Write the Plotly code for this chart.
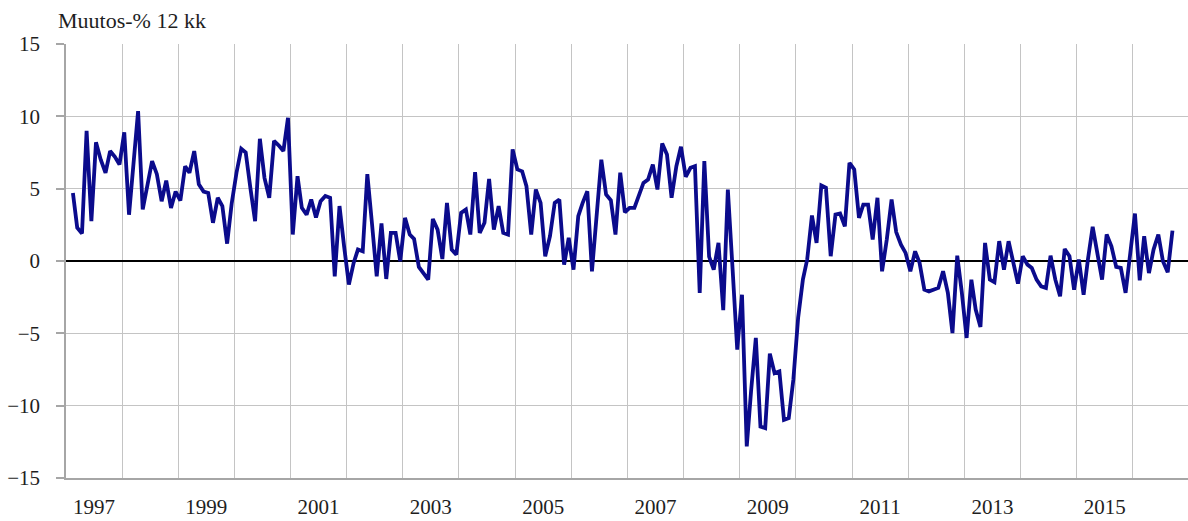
import plotly.graph_objects as go
import pandas as pd

start_month = "1997-01-15"
values = [
    4.7, 2.3, 1.9, 9.0, 2.75, 8.2, 7.0, 6.1, 7.6, 7.2, 6.67, 8.9,
    3.2, 6.8, 10.36, 3.56, 5.2, 6.9, 6.0, 4.13, 5.56, 3.67, 4.8, 4.18,
    6.55, 6.1, 7.6, 5.3, 4.8, 4.7, 2.64, 4.37, 3.8, 1.2, 4.0, 6.1,
    7.76, 7.5, 5.0, 2.75, 8.45, 5.75, 4.37, 8.3, 8.0, 7.6, 9.9, 1.83,
    5.86, 3.67, 3.2, 4.25, 3.0, 4.13, 4.5, 4.37, -1.06, 3.8, 1.0, -1.63,
    -0.13, 0.79, 0.67, 6.0, 2.5, -1.06, 2.59, -1.24, 1.94, 1.94, -0.02, 2.98,
    1.83, 1.53, -0.41, -0.85, -1.29, 2.91, 2.17, 0.14, 4.02, 0.79, 0.44, 3.33,
    3.56, 1.83, 6.14, 1.94, 2.64, 5.68, 2.17, 3.79, 1.94, 1.83, 7.71, 6.33,
    6.2, 5.17, 1.83, 4.94, 4.02, 0.33, 1.71, 4.02, 4.25, -0.25, 1.6, -0.6,
    3.1, 4.0, 4.82, -0.71, 3.1, 7.0, 4.6, 4.2, 1.83, 6.1, 3.37, 3.67,
    3.67, 4.48, 5.4, 5.63, 6.67, 4.94, 8.12, 7.36, 4.37, 6.55, 7.9, 5.82,
    6.44, 6.55, -2.2, 6.9, 0.3, -0.6, 1.25, -3.4, 4.94, -0.6, -6.13, -2.33,
    -12.82, -9.0, -5.32, -11.44, -11.55, -6.41, -7.75, -7.63, -10.98, -10.86, -8.2, -3.94,
    -1.29, 0.1, 3.14, 1.25, 5.22, 5.06, 0.33, 3.21, 3.28, 2.4, 6.79, 6.33,
    2.98, 3.9, 3.9, 1.48, 4.37, -0.71, 1.5, 4.25, 2.0, 1.13, 0.56, -0.71,
    0.67, -0.13, -1.98, -2.1, -2.0, -1.86, -0.71, -2.2, -4.98, 0.37, -2.2, -5.32,
    -1.29, -3.36, -4.56, 1.25, -1.29, -1.47, 1.37, -0.6, 1.37, -0.1, -1.56, 0.33,
    -0.25, -0.48, -1.29, -1.75, -1.86, 0.37, -1.29, -2.44, 0.83, 0.33, -1.98, 0.1,
    -2.33, 0.1, 2.36, 0.56, -1.29, 1.83, 1.02, -0.41, -0.48, -2.2, 0.79, 3.28,
    -1.33, 1.71, -0.83, 0.79, 1.83, -0.02, -0.78, 2.1,
]
year_labels = ["1997", "1999", "2001", "2003", "2005", "2007", "2009", "2011", "2013", "2015"]
y_ticks = [-15, -10, -5, 0, 5, 10, 15]
y_title = "Muutos-% 12 kk"

dates = pd.date_range(start=start_month, periods=len(values), freq="MS") + pd.Timedelta(days=14)
label_pos = [f"{y}-07-02" for y in year_labels]

font_family = "Liberation Serif"
grid_c = "#c4c4c4"
axis_c = "#a6a6a6"

fig = go.Figure()
fig.add_trace(go.Scatter(
    x=dates, y=values, mode="lines",
    line=dict(color="#0b0b8c", width=3.8),
    hoverinfo="skip", showlegend=False,
))

fig.update_layout(
    width=1188, height=521,
    margin=dict(l=66, r=0, t=44, b=43, autoexpand=False),
    paper_bgcolor="white", plot_bgcolor="white",
    font=dict(family=font_family, size=21, color="#1e1e1e"),
    xaxis=dict(
        range=["1997-01-01", "2016-12-25"],
        automargin=False,
        tickmode="array", tickvals=label_pos, ticktext=year_labels,
        showgrid=False, ticks="", ticklen=0,
        showline=True, linecolor=axis_c, linewidth=1.5,
        minor=dict(tickmode="linear", tick0="1997-01-01", dtick="M12",
                   showgrid=True, gridcolor=grid_c, gridwidth=1.2, ticks=""),
        zeroline=False, tickangle=0,
        ticklabelstandoff=9,
    ),
    yaxis=dict(
        range=[-15, 15],
        automargin=False,
        tickmode="array", tickvals=y_ticks,
        showgrid=True, gridcolor=grid_c, gridwidth=1.2,
        zeroline=True, zerolinecolor="#000000", zerolinewidth=1.5,
        showline=True, linecolor=axis_c, linewidth=1.5,
        ticks="outside", ticklen=8, tickcolor=axis_c, tickwidth=1.5,
        ticklabelstandoff=12,
    ),
    annotations=[dict(
        text=y_title, xref="paper", yref="paper",
        x=-0.009, y=1.053, xanchor="left", yanchor="middle",
        showarrow=False, font=dict(family=font_family, size=22, color="#1e1e1e"),
    )],
)

fig.write_html(
    "out.html",
    config={"displayModeBar": False},
    post_script="document.body.style.margin='0';document.body.style.overflow='hidden';",
)
